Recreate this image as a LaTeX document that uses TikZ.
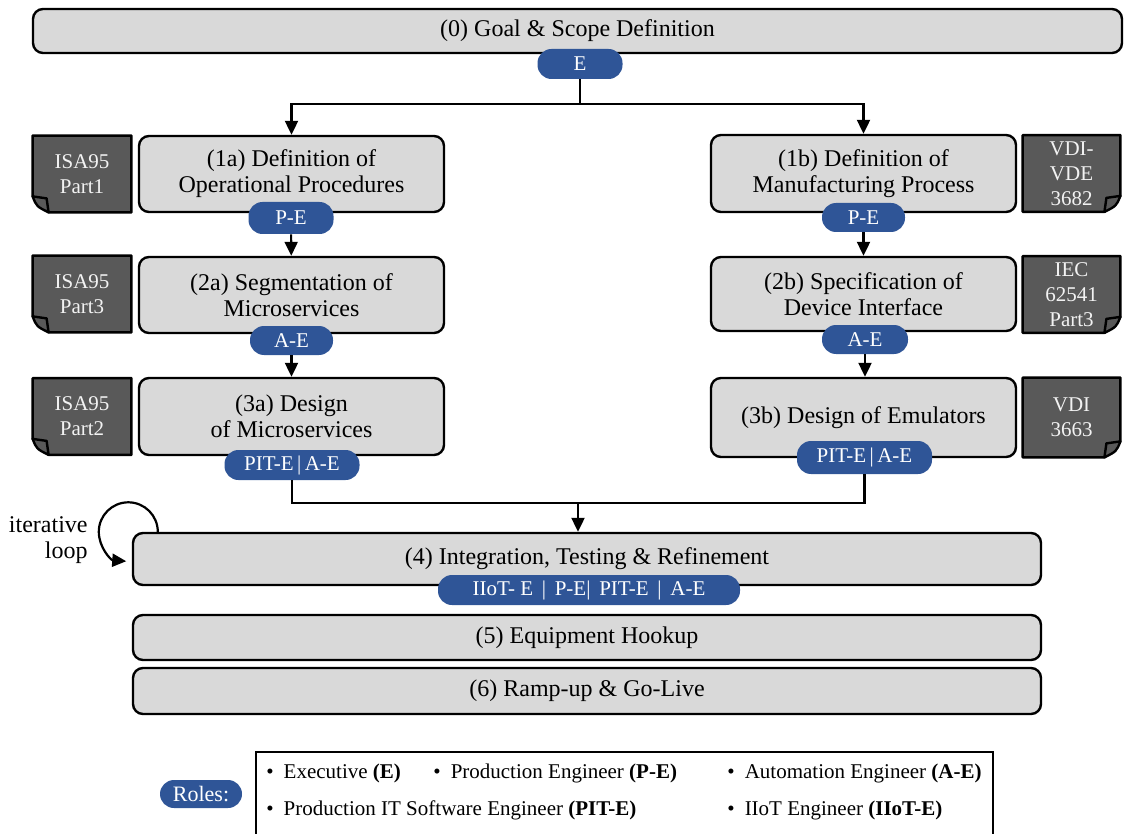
\documentclass[tikz,border=0pt]{standalone}
\usepackage{fontspec}
\setmainfont{Liberation Serif}
\usepackage{tikz}
\usetikzlibrary{positioning, arrows.meta, backgrounds}

\definecolor{boxgray}{HTML}{D9D9D9}
\definecolor{roleblue}{HTML}{2F5597}
\definecolor{notegray}{HTML}{595959}
\definecolor{notetext}{HTML}{F2F2F2}

\begin{document}
\begin{tikzpicture}[x=0.5pt, y=0.5pt,
    phase/.style={draw=black, line width=1.2pt, fill=boxgray, rounded corners=5pt, align=center, inner sep=0pt, font=\fontsize{12}{13}\selectfont},
    role/.style={fill=roleblue, rounded corners=7pt, text=white, inner sep=0pt, font=\fontsize{10.5}{12}\selectfont},
    norm/.style={align=center, inner sep=0pt, text=notetext, font=\fontsize{10.5}{12.5}\selectfont, minimum height=38pt},
    notebody/.style={fill=notegray, draw=black, line width=1.2pt, line join=round},
    flow/.style={line width=1.1pt, -{Triangle[length=7pt, width=6.5pt]}},
    link/.style={line width=1.1pt},
    item/.style={anchor=west, inner sep=0pt, font=\fontsize{10.5}{12}\selectfont}
  ]
  \useasboundingbox (0,0) rectangle (1124,-834);

  % folded sheet behind a norm label (fold at the lower left / lower right)
  \def\foldL#1{%
    \filldraw[notebody] (#1.north west) -- (#1.north east) -- (#1.south east)
      -- ([xshift=8pt]#1.south west) -- ([yshift=8pt]#1.south west) -- cycle;
    \filldraw[notebody] ([yshift=8pt]#1.south west) .. controls ([shift={(2pt,3pt)}]#1.south west) .. ([xshift=8pt]#1.south west)
      -- ([shift={(7pt,7pt)}]#1.south west) -- cycle;}
  \def\foldR#1{%
    \filldraw[notebody] (#1.north west) -- (#1.north east) -- ([yshift=8pt]#1.south east)
      -- ([xshift=-8pt]#1.south east) -- (#1.south west) -- cycle;
    \filldraw[notebody] ([yshift=8pt]#1.south east) .. controls ([shift={(-2pt,3pt)}]#1.south east) .. ([xshift=-8pt]#1.south east)
      -- ([shift={(-7pt,7pt)}]#1.south east) -- cycle;}

  % -- 1. PHASES --
  \node[phase, minimum width=544.5pt, minimum height=22pt] (g0) at (577.5,-31) {(0) Goal \& Scope Definition};

  \node[phase, minimum width=152.5pt, minimum height=38pt] (d1a) at (291.5,-174) {(1a) Definition of\\Operational Procedures};
  \node[phase, minimum width=152.5pt, minimum height=38pt] (s2a) at (291.5,-295) {(2a) Segmentation of\\Microservices};
  \node[phase, minimum width=152.5pt, minimum height=38.5pt] (d3a) at (291.5,-416.5) {(3a) Design\\of Microservices};

  \node[phase, minimum width=152.5pt, minimum height=38.5pt] (d1b) at (863.5,-173.5) {(1b) Definition of\\Manufacturing Process};
  \node[phase, minimum width=152.5pt, minimum height=37pt] (s2b) at (863.5,-294) {(2b) Specification of\\Device Interface};
  \node[phase, minimum width=152.5pt, minimum height=39.5pt] (d3b) at (863.5,-417.5) {(3b) Design of Emulators};

  \node[phase, minimum width=454pt, minimum height=26pt] (int4) at (587,-559) {(4) Integration, Testing \& Refinement};
  \node[phase, minimum width=454pt, minimum height=22.5pt] (hook5) at (587,-637.5) {(5) Equipment Hookup};
  \node[phase, minimum width=454pt, minimum height=23pt] (ramp6) at (587,-691) {(6) Ramp-up \& Go-Live};

  % -- 2. ROLES ON THE PHASES --
  \node[role, minimum width=42.5pt, minimum height=15pt] (r0) at (580,-64) {E};
  \node[role, minimum width=42.5pt, minimum height=16pt] (r1a) at (291,-218) {P-E};
  \node[role, minimum width=41.5pt, minimum height=14.5pt] (r2a) at (291.5,-340.5) {A-E};
  \node[role, minimum width=67.5pt, minimum height=15pt] (r3a) at (292,-465) {PIT-E\,|\,A-E};
  \node[role, minimum width=41.5pt, minimum height=14.5pt] (r1b) at (863.5,-217.5) {P-E};
  \node[role, minimum width=43pt, minimum height=14.5pt] (r2b) at (865,-339.5) {A-E};
  \node[role, minimum width=67.5pt, minimum height=16.5pt] (r3b) at (864.5,-457.5) {PIT-E\,|\,A-E};
  \node[role, minimum width=151pt, minimum height=15pt] (r4) at (589,-590) {IIoT- E \,|\, P-E| \,PIT-E \,|\, A-E};

  % -- 3. FLOW --
  \coordinate (jtop) at (580,-104);
  \coordinate (jbot) at (578,-503);
  \draw[link] (r0) -- (jtop);
  \draw[flow] (jtop) -| (d1a.north);
  \draw[flow] (jtop) -| (d1b.north);
  \draw[flow] (r1a) -- (s2a);
  \draw[flow] (r2a) -- (d3a);
  \draw[flow] (r1b.south) -- (s2b.north -| r1b.south);
  \draw[flow] (r2b.south) -- (d3b.north -| r2b.south);
  \draw[link] (r3a.south) |- (jbot);
  \draw[link] (r3b.south) |- (jbot);
  \draw[flow] (jbot) -- (jbot |- int4.north);

  % iterative loop
  \draw[flow] ([xshift=13pt]int4.north west) arc[start angle=0, end angle=266, radius=14.75pt];
  \node[align=right, anchor=east, inner sep=0pt, font=\fontsize{12}{13}\selectfont] (loop) at (88,-540) {iterative\\loop};

  % -- 4. NORMS --
  \node[norm, minimum width=49pt] (n1a) at (82,-174) {ISA95\\Part1};
  \node[norm, minimum width=49pt] (n2a) at (82,-294) {ISA95\\Part3};
  \node[norm, minimum width=49pt] (n3a) at (82,-416.5) {ISA95\\Part2};
  \node[norm, minimum width=48.5pt] (n1b) at (1071.5,-173.5) {VDI-\\VDE\\3682};
  \node[norm, minimum width=48.5pt] (n2b) at (1071.5,-294.5) {IEC\\62541\\Part3};
  \node[norm, minimum width=48.5pt, minimum height=39.5pt] (n3b) at (1071.5,-417.5) {VDI\\3663};
  \begin{scope}[on background layer]
    \foldL{n1a} \foldL{n2a} \foldL{n3a}
    \foldR{n1b} \foldR{n2b} \foldR{n3b}
  \end{scope}

  % -- 5. LEGEND --
  \node[role, minimum width=41pt, minimum height=14pt, font=\fontsize{11}{12}\selectfont] (roles) at (201,-794) {Roles:};
  \draw[link] (256,-834) |- (993,-752) -- (993,-834);
  \node[item] (iE) at (266,-773) {\textbullet\hspace{5pt}Executive \textbf{(E)}};
  \node[item] (iPE) at (433,-773) {\textbullet\hspace{5pt}Production Engineer \textbf{(P-E)}};
  \node[item] (iAE) at (727,-773) {\textbullet\hspace{5pt}Automation Engineer \textbf{(A-E)}};
  \node[item] (iPIT) at (266,-810) {\textbullet\hspace{5pt}Production IT Software Engineer \textbf{(PIT-E)}};
  \node[item] (iIIoT) at (727,-810) {\textbullet\hspace{5pt}IIoT Engineer \textbf{(IIoT-E)}};
\end{tikzpicture}
\end{document}
